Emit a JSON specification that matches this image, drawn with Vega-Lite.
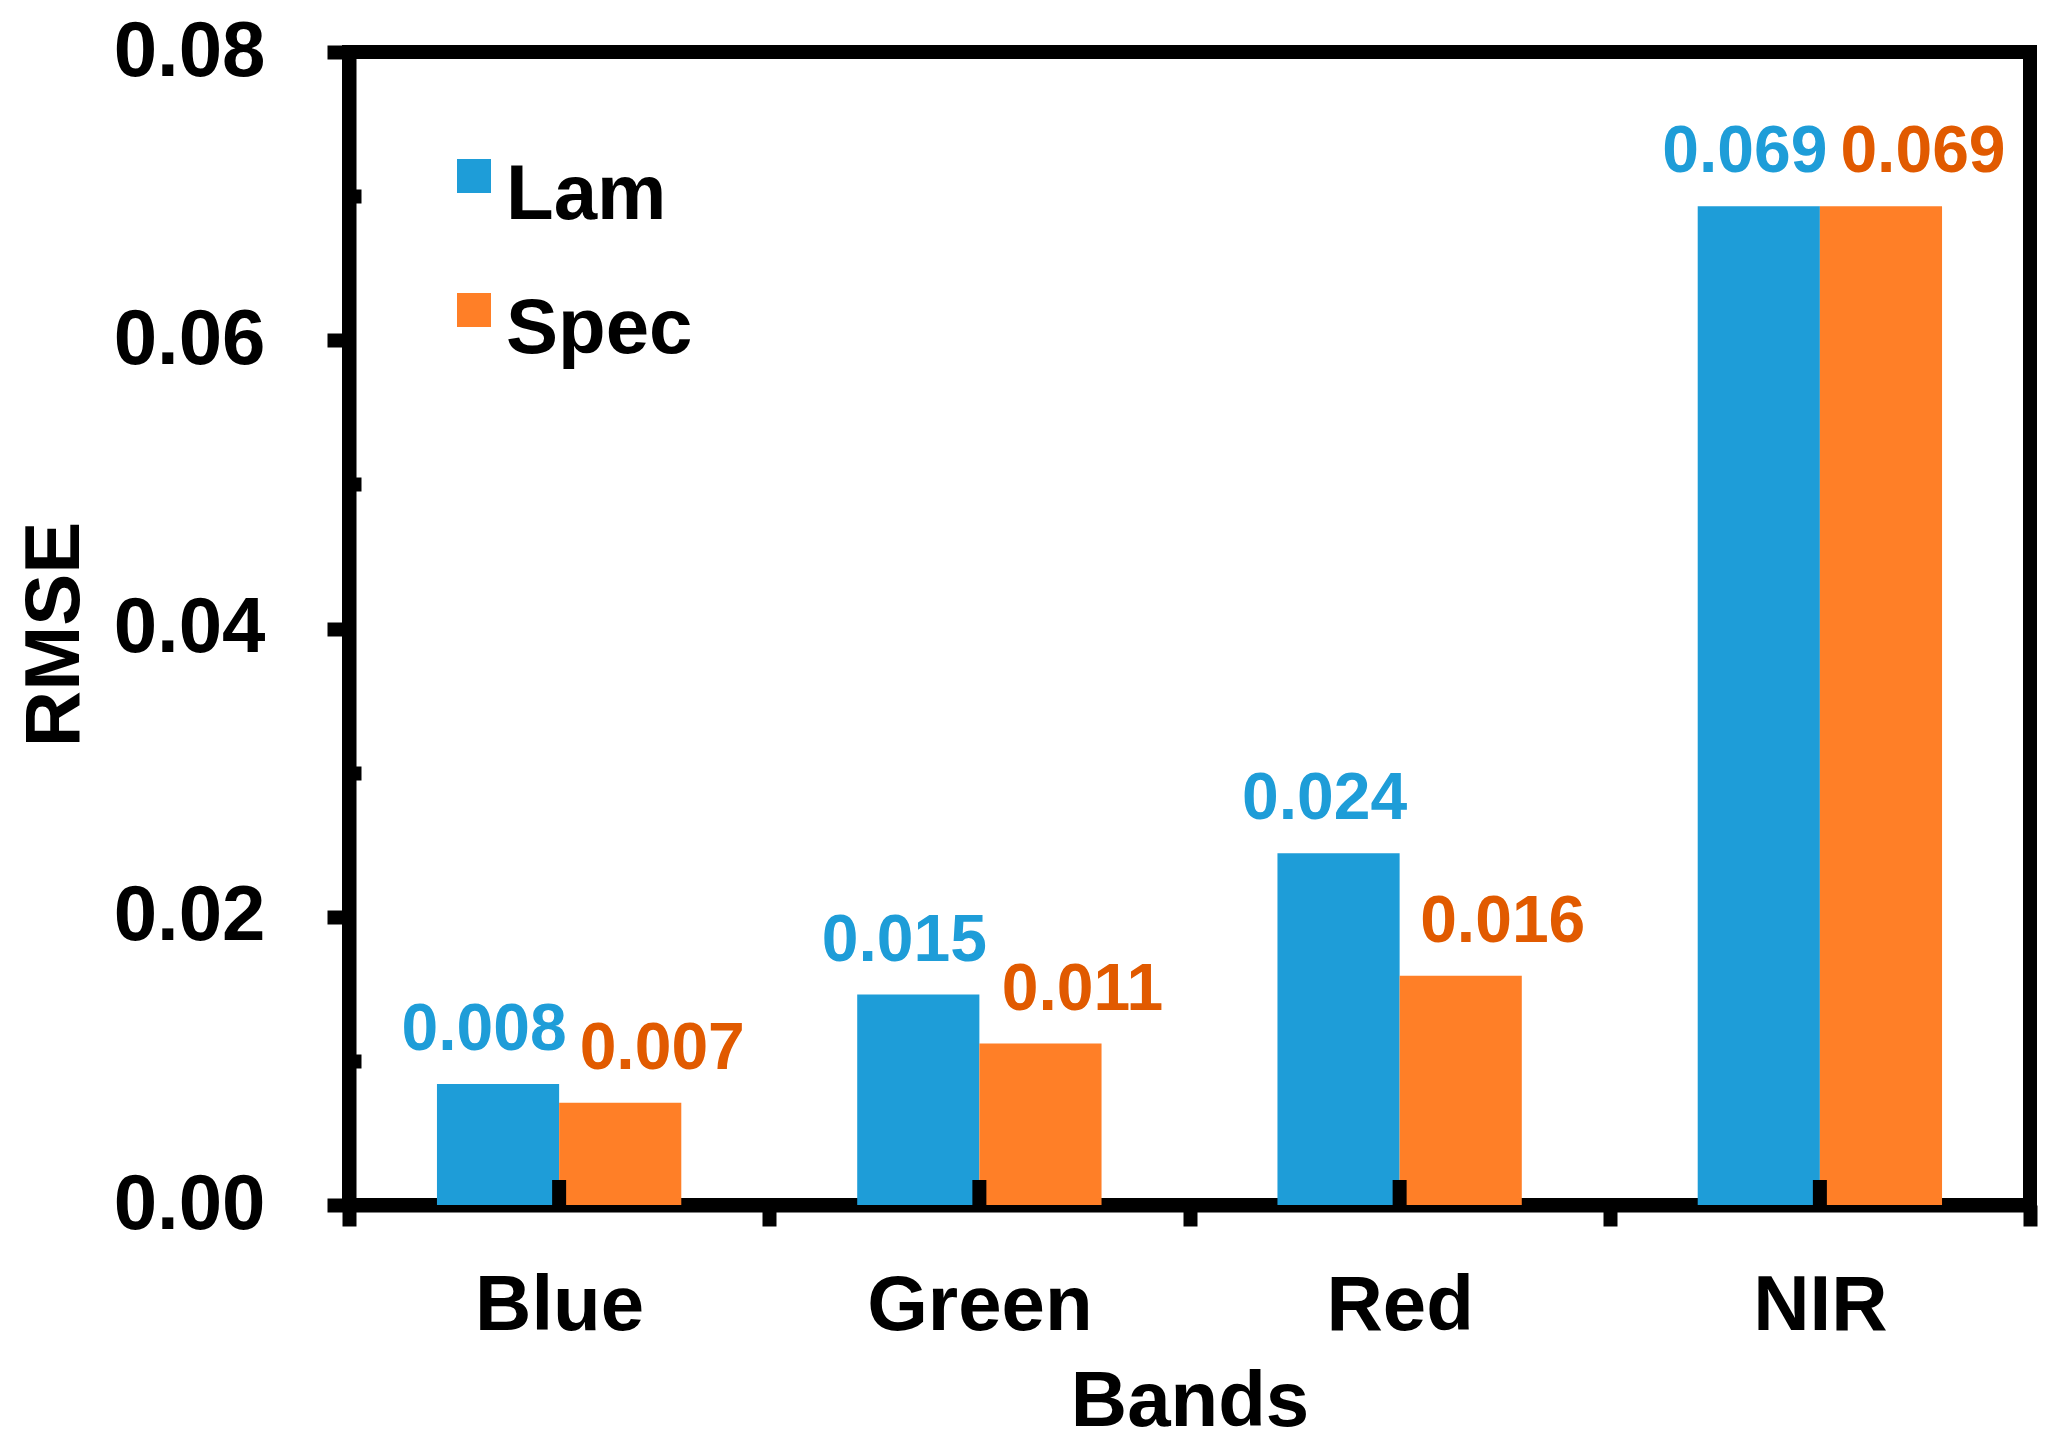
{
  "$schema": "https://vega.github.io/schema/vega-lite/v6.json",
  "autosize": {"type": "none"},
  "width": 1681,
  "height": 1153,
  "padding": {"left": 349, "top": 52, "right": 24, "bottom": 246},
  "background": "white",
  "config": {
    "font": "Liberation Sans",
    "view": {"stroke": "black", "strokeWidth": 14}
  },
  "data": {
    "values": [
      {"Band": "Blue", "Method": "Lam", "RMSE": 0.0084},
      {"Band": "Blue", "Method": "Spec", "RMSE": 0.0071},
      {"Band": "Green", "Method": "Lam", "RMSE": 0.0146},
      {"Band": "Green", "Method": "Spec", "RMSE": 0.0112},
      {"Band": "Red", "Method": "Lam", "RMSE": 0.0244},
      {"Band": "Red", "Method": "Spec", "RMSE": 0.0159},
      {"Band": "NIR", "Method": "Lam", "RMSE": 0.0693},
      {"Band": "NIR", "Method": "Spec", "RMSE": 0.0693}
    ]
  },
  "encoding": {
    "x": {
      "field": "Band", "type": "nominal", "sort": ["Blue", "Green", "Red", "NIR"],
      "scale": {"paddingInner": 0, "paddingOuter": 0},
      "axis": {
        "title": "Bands", "labelAngle": 0, "labelFontSize": 78, "labelFontWeight": "bold", "labelColor": "black",
        "labelPadding": 41, "labelLimit": 400, "titleFontSize": 78, "titleFontWeight": "bold", "titleColor": "black", "titlePadding": 18,
        "domainColor": "black", "domainWidth": 14, "tickColor": "black", "tickWidth": 14, "tickSize": 21,
        "tickBand": "extent", "grid": false
      }
    },
    "y": {
      "field": "RMSE", "type": "quantitative",
      "scale": {"domain": [0, 0.08], "nice": false},
      "axis": {
        "title": "RMSE", "values": [0, 0.01, 0.02, 0.03, 0.04, 0.05, 0.06, 0.07, 0.08],
        "format": ".2f",
        "labelExpr": "round(datum.value * 100) % 2 == 0 ? datum.label : ''",
        "labelFontSize": 78, "labelFontWeight": "bold", "labelColor": "black", "labelPadding": 62,
        "titleFontSize": 78, "titleFontWeight": "bold", "titleColor": "black",
        "titleX": -271, "titleY": 582, "titleBaseline": "alphabetic", "titleAlign": "center", "titleAngle": -90,
        "domainColor": "black", "domainWidth": 14, "tickColor": "black", "tickWidth": 14,
        "tickSize": {"condition": {"test": "round(datum.value * 100) % 2 == 1", "value": -12}, "value": 22},
        "grid": false
      }
    }
  },
  "layer": [
    {
      "mark": {"type": "bar"},
      "encoding": {
        "xOffset": {"field": "Method", "type": "nominal", "scale": {"domain": ["Lam", "Spec"], "paddingInner": 0, "paddingOuter": 0.72}},
        "color": {
          "field": "Method", "type": "nominal",
          "scale": {"domain": ["Lam", "Spec"], "range": ["#1E9DD8", "#FF7F27"]},
          "legend": {
            "title": null, "orient": "none", "legendX": 86, "legendY": 105,
            "symbolType": "M-1,-2.18H1V-0.18H-1Z", "symbolSize": 1156, "symbolStrokeWidth": 0, "symbolOpacity": 1,
            "labelFontSize": 78, "labelFontWeight": "bold", "labelColor": "black", "labelOffset": -7,
            "rowPadding": 56, "labelLimit": 400
          }
        }
      }
    },
    {
      "transform": [{"filter": "datum.Method == 'Lam'"}],
      "mark": {"type": "text", "fontSize": 66, "fontWeight": "bold", "color": "#1E9DD8", "baseline": "alphabetic", "dy": -34, "dx": -14},
      "encoding": {
        "xOffset": {"datum": "Lam"},
        "text": {"field": "RMSE", "type": "quantitative", "format": ".3f"}
      }
    },
    {
      "transform": [{"filter": "datum.Method == 'Spec'"}],
      "mark": {"type": "text", "fontSize": 66, "fontWeight": "bold", "color": "#E15A00", "baseline": "alphabetic", "dy": -34, "dx": 42},
      "encoding": {
        "xOffset": {"datum": "Spec"},
        "text": {"field": "RMSE", "type": "quantitative", "format": ".3f"}
      }
    },
    {
      "transform": [{"filter": "datum.Method == 'Lam'"}],
      "mark": {"type": "tick", "orient": "vertical", "color": "black", "thickness": 14, "size": 30, "yOffset": -10, "opacity": 1},
      "encoding": {
        "y": {"datum": 0}
      }
    }
  ]
}
